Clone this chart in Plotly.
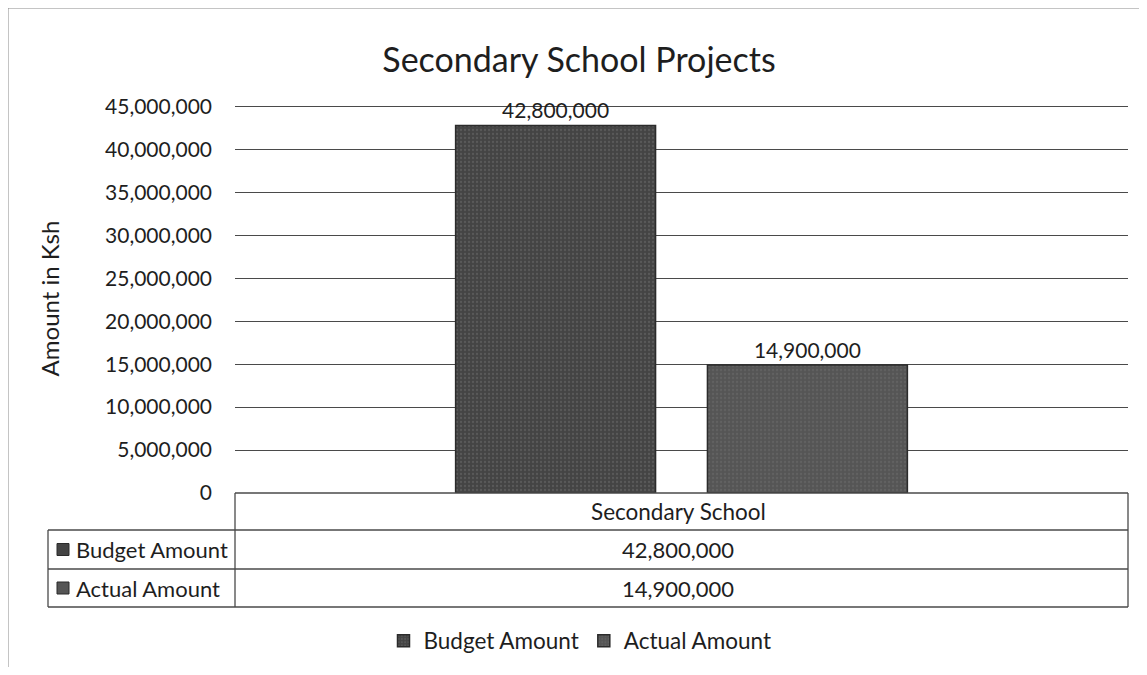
import plotly.graph_objects as go

# ---- data ----
categories = ["Secondary School"]
series_names = ["Budget Amount", "Actual Amount"]
budget_values = [42800000]
actual_values = [14900000]
y_ticks = [0, 5000000, 10000000, 15000000, 20000000, 25000000,
           30000000, 35000000, 40000000, 45000000]

# ---- layout geometry (page pixels; page body has an 8px margin) ----
OFF = 8
PAGE_W, PAGE_H = 1147, 675
W, H = PAGE_W - 2 * OFF, PAGE_H - 2 * OFF
PL, PR, PT, PB = 235, 1128, 104, 493   # plot area edges on the page
Y_TOP = 45300000
FONT = "Lato"
TXT = "#1e1e1e"
LINE = "#4a4a4a"
colors = ["#444444", "#555555"]


def xp(px):
    return (px - PL) / (PR - PL)


def yp(py):
    return (PB - py) / (PB - PT)


fig = go.Figure()
for name, vals, col in zip(series_names, [budget_values, actual_values], colors):
    fig.add_trace(go.Bar(
        name=name, x=categories, y=vals,
        marker=dict(color=col, line=dict(color="#2b2b2b", width=1.5),
                    pattern=dict(shape=".", fgcolor="#6e6e6e", bgcolor=col,
                                 size=4, solidity=0.25)),
        texttemplate="%{y:,}", textposition="outside",
        textfont=dict(family=FONT, size=21, color=TXT),
        cliponaxis=False,
    ))

shapes = []
annotations = []

# outer chart border (scan edge)
shapes.append(dict(type="line", xref="paper", yref="paper",
                   x0=xp(OFF), x1=xp(PAGE_W), y0=yp(OFF), y1=yp(OFF),
                   line=dict(color="#8a8a8a", width=1)))
shapes.append(dict(type="line", xref="paper", yref="paper",
                   x0=xp(OFF), x1=xp(OFF), y0=yp(OFF), y1=yp(PAGE_H),
                   line=dict(color="#8a8a8a", width=1)))

# data table grid
rows_y = [PB, 530, 569, 607]
tbl_left = 48
for i, ry in enumerate(rows_y):
    x0 = PL if i == 0 else tbl_left
    shapes.append(dict(type="line", xref="paper", yref="paper",
                       x0=xp(x0), x1=xp(PR), y0=yp(ry), y1=yp(ry),
                       line=dict(color=LINE, width=1.3)))
for vx, top in [(PL, PB), (PR, PB), (tbl_left, rows_y[1])]:
    shapes.append(dict(type="line", xref="paper", yref="paper",
                       x0=xp(vx), x1=xp(vx), y0=yp(top), y1=yp(rows_y[-1]),
                       line=dict(color=LINE, width=1.3)))

center_x = (PL + PR) / 2
# header row
annotations.append(dict(xref="paper", yref="paper",
                        x=xp(center_x - 3), y=yp((rows_y[0] + rows_y[1]) / 2),
                        text=categories[0], showarrow=False,
                        xanchor="center", yanchor="middle",
                        font=dict(family=FONT, size=22.5, color=TXT)))
for i, (name, vals, col) in enumerate(zip(series_names, [budget_values, actual_values], colors)):
    cy = (rows_y[i + 1] + rows_y[i + 2]) / 2
    shapes.append(dict(type="rect", xref="paper", yref="paper",
                       x0=xp(57), x1=xp(69), y0=yp(cy - 6), y1=yp(cy + 6),
                       fillcolor=col, line=dict(color="#2b2b2b", width=1)))
    annotations.append(dict(xref="paper", yref="paper", x=xp(74), y=yp(cy),
                            text=name, showarrow=False,
                            xanchor="left", yanchor="middle",
                            font=dict(family=FONT, size=22, color=TXT)))
    annotations.append(dict(xref="paper", yref="paper", x=xp(center_x - 4), y=yp(cy),
                            text=f"{vals[0]:,}", showarrow=False,
                            xanchor="center", yanchor="middle",
                            font=dict(family=FONT, size=22, color=TXT)))

fig.update_layout(
    width=W, height=H,
    margin=dict(l=PL - OFF, r=(OFF + W) - PR, t=PT - OFF, b=(OFF + H) - PB,
                pad=0, autoexpand=False),
    paper_bgcolor="white", plot_bgcolor="white",
    barmode="group", bargap=0.436, bargroupgap=0.206,
    title=dict(text="Secondary School Projects", x=(579 - OFF) / W, xanchor="center",
               y=1 - (60 - OFF) / H, yanchor="middle",
               font=dict(family=FONT, size=34, color=TXT)),
    font=dict(family=FONT, color=TXT),
    showlegend=True,
    legend=dict(orientation="h", x=xp(580), xanchor="center",
                y=yp(641), yanchor="middle",
                font=dict(family=FONT, size=22.5, color=TXT),
                itemwidth=30, traceorder="normal"),
    shapes=shapes, annotations=annotations,
)
fig.update_xaxes(showticklabels=False, showgrid=False, zeroline=False,
                 showline=False, ticks="")
fig.update_yaxes(range=[0, Y_TOP], tickvals=y_ticks, tickformat=",",
                 showgrid=True, gridcolor=LINE, gridwidth=1.2,
                 zeroline=False, showline=False, ticks="",
                 ticklabelstandoff=22,
                 tickfont=dict(family=FONT, size=21, color=TXT),
                 title=dict(text="Amount in Ksh", standoff=38,
                            font=dict(family=FONT, size=24, color=TXT)))

fig.write_html("out.html")
